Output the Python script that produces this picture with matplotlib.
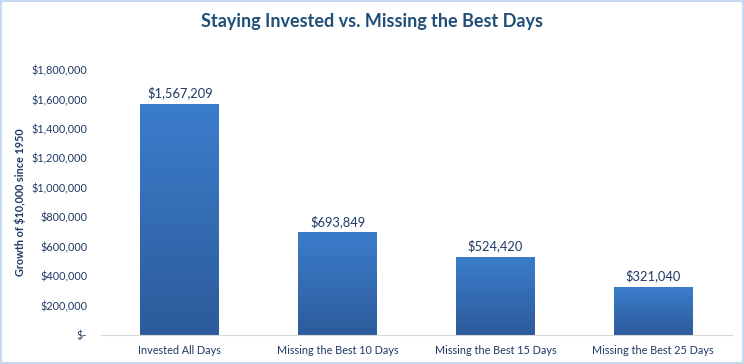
import numpy as np
import matplotlib.pyplot as plt
from matplotlib.patches import Rectangle
from matplotlib.colors import LinearSegmentedColormap

categories = ["Invested All Days", "Missing the Best 10 Days",
              "Missing the Best 15 Days", "Missing the Best 25 Days"]
values = [1567209, 693849, 524420, 321040]
yticks = [0, 200000, 400000, 600000, 800000, 1000000, 1200000, 1400000, 1600000, 1800000]

plt.rcParams['font.family'] = ['Lato', 'DejaVu Sans']
txt = "#1f3864"

fig = plt.figure(figsize=(7.44, 3.64), dpi=100)
ax = fig.add_axes([101 / 744, (364 - 335) / 364, (732 - 101) / 744, (335 - 70) / 364])

x = np.arange(len(categories))
bars = ax.bar(x, values, width=0.5, color="none", edgecolor="none")

# vertical gradient inside each bar: light on top, darker at the bottom
cmap = LinearSegmentedColormap.from_list("g", ["#2d5b9b", "#3b7dcb"])
grad = np.linspace(0, 1, 256).reshape(-1, 1)
for b in bars:
    x0, w, h = b.get_x(), b.get_width(), b.get_height()
    ax.imshow(grad, extent=[x0, x0 + w, 0, h], origin="lower", cmap=cmap,
              aspect="auto", zorder=2)

for xi, v in zip(x, values):
    ax.text(xi, v + 35000, "${:,}".format(v), ha="center", va="bottom",
            fontsize=9.3, color=txt)

ax.set_xlim(-0.5, len(categories) - 0.5)
ax.set_ylim(0, 1800000)
ax.set_xticks(x)
ax.set_xticklabels(categories, fontsize=7.8, color=txt)
ax.set_yticks(yticks)
ax.set_yticklabels(["$-"] + ["${:,}".format(t) for t in yticks[1:]], fontsize=7.8, color=txt)
ax.tick_params(length=0)
ax.tick_params(axis="x", pad=7)
ax.tick_params(axis="y", pad=10)

for s in ["top", "right", "left"]:
    ax.spines[s].set_visible(False)
ax.spines["bottom"].set_color("#d9d9d9")

fig.text(20 / 744, 1 - 202 / 364, "Growth of $10,000 since 1950", rotation=90, ha="center",
         va="center", fontsize=7.8, fontweight="bold", color=txt)
fig.text(0.5, 1 - 22 / 364, "Staying Invested vs. Missing the Best Days", ha="center",
         va="center", fontsize=13, fontweight="bold", color="#1f4e79")

fig.patches.append(Rectangle((0.001, 0.002), 0.997, 0.995, transform=fig.transFigure,
                             fill=False, edgecolor="#c6d9f0", linewidth=1.5))

fig.savefig("out.png", dpi=100)
